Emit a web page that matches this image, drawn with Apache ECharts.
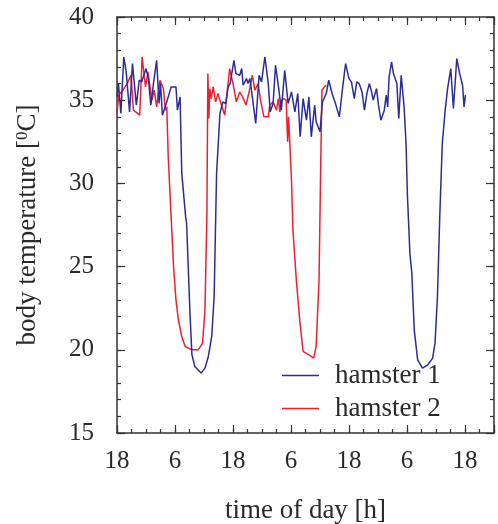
<!DOCTYPE html>
<html>
<head>
<meta charset="utf-8">
<script src="https://cdn.jsdelivr.net/npm/echarts@6/dist/echarts.min.js"></script>
<style>html,body{margin:0;padding:0;background:#fff}#c{width:498px;height:524px}</style>
</head>
<body>
<div id="c"></div>
<script>
// time since 18:00 on day 1, in hours
const hamster1Hours = [0.0,0.3,0.8,1.4,1.9,2.6,3.2,4.0,4.6,5.1,6.0,6.5,7.0,7.5,8.2,8.7,9.0,9.4,10.3,11.2,11.7,12.2,12.5,12.8,13.05,13.4,14.2,14.4,15.1,15.5,16.1,17.4,18.2,18.9,19.6,20.1,20.6,21.3,21.9,22.5,23.0,23.4,24.2,24.6,25.4,25.8,26.1,26.8,27.1,27.5,28.0,28.7,29.4,29.9,30.6,31.3,31.7,32.3,32.8,33.5,34.0,34.7,35.4,36.1,36.8,37.4,37.9,38.5,39.2,39.7,40.2,40.9,41.2,42.0,42.5,43.3,43.8,44.5,45.2,46.0,46.7,47.3,48.0,48.5,49.1,49.6,50.1,50.7,51.2,51.7,52.2,52.6,53.0,53.7,54.1,54.6,55.3,55.7,56.0,56.3,56.8,57.2,57.5,57.9,58.3,58.8,59.0,59.4,59.8,60.1,60.6,61.0,61.5,62.2,63.2,64.3,65.3,65.8,66.3,66.8,67.3,67.9,68.4,69.05,69.6,70.3,70.9,71.5,71.8,72.1];
const hamster1Temp = [35.2,36.0,34.2,37.6,36.7,34.3,37.2,34.7,36.2,36.1,36.9,36.3,34.7,35.9,37.4,34.8,36.0,34.1,34.9,35.8,35.8,35.8,34.4,34.4,35.2,30.6,28.0,27.6,22.2,19.7,19.0,18.6,18.9,19.6,20.8,23.2,30.6,34.2,34.9,34.8,35.8,36.0,37.4,36.6,36.5,36.9,35.9,36.3,36.0,36.3,35.2,33.6,36.5,36.1,37.6,36.0,34.3,34.8,37.1,35.6,34.4,36.8,34.8,35.5,34.3,35.4,32.8,35.1,33.8,35.2,32.8,34.7,33.7,33.1,34.9,35.4,36.2,35.4,34.8,34.0,35.8,37.2,36.3,36.1,35.1,36.1,36.0,35.5,34.4,35.4,36.0,35.6,35.0,35.7,34.7,33.8,34.4,35.3,34.6,36.4,37.3,36.6,36.7,36.0,33.9,36.5,36.5,34.6,32.4,29.2,25.8,24.6,21.2,19.4,18.9,19.1,19.5,20.4,23.2,28.2,32.4,34.4,35.7,36.9,34.5,37.5,36.6,35.9,34.6,35.3];
const hamster2Hours = [0.0,0.35,1.2,2.1,2.9,3.4,4.7,5.2,5.5,5.9,6.4,7.2,7.7,8.2,8.9,9.6,10.0,10.3,10.6,11.3,11.7,12.2,12.7,13.4,14.1,15.5,16.8,17.7,18.2,18.6,18.8,19.0,19.2,19.5,19.9,20.4,20.9,21.4,22.3,23.3,24.0,24.7,25.4,26.0,26.7,27.4,28.0,28.5,29.2,29.7,30.4,31.3,31.6,32.3,32.6,33.0,33.4,33.7,34.0,34.5,35.0,35.3,35.5,35.8,36.1,36.4,37.1,37.8,38.5,39.7,40.7,41.2,41.8,42.1,42.4,42.9,43.3];
const hamster2Temp = [34.2,35.3,35.6,36.0,36.5,34.4,34.1,37.6,36.8,35.8,36.7,35.0,35.6,34.6,36.2,35.7,34.4,34.6,31.6,27.4,25.0,23.0,21.8,20.8,20.2,20.0,20.0,20.4,22.4,28.2,36.6,33.9,35.7,35.1,35.8,34.9,35.4,34.9,34.1,36.9,36.0,34.9,35.5,35.2,34.7,35.6,36.5,35.6,36.0,35.0,34.0,34.0,34.7,34.9,35.0,34.4,35.1,34.3,35.0,35.1,35.0,32.5,34.0,34.0,30.2,27.2,24.2,21.8,19.9,19.7,19.5,20.2,24.2,30.2,35.6,35.8,35.9];
const xTickLabels = ['18','6','18','6','18','6','18'];
const seriesNames = ['hamster 1','hamster 2'];

const FONT = 'Liberation Serif';
const TXT = '#2a2a2a';
const FRAME = '#333';

function zip(a, b) { return a.map((v, i) => [v, b[i]]); }

const xMin = 0, xMax = 78, yMin = 15, yMax = 40;

function xAxisDef(pos, major, showLabels) {
  return {
    type: 'value', position: pos, min: xMin, max: xMax,
    interval: major ? 12 : 3,
    axisLine: { show: major, onZero: false, lineStyle: { color: FRAME, width: 1.5 } },
    axisTick: { show: true, inside: true, length: major ? 8 : 4, lineStyle: { color: FRAME, width: 1.2 } },
    axisLabel: {
      show: showLabels, margin: 16, fontFamily: FONT, fontSize: 25, color: TXT,
      formatter: v => (v % 12 === 0 && v / 12 < xTickLabels.length) ? xTickLabels[v / 12] : ''
    },
    splitLine: { show: false },
    name: showLabels ? 'time of day [h]' : '',
    nameLocation: 'middle', nameGap: 64,
    nameTextStyle: { fontFamily: FONT, fontSize: 27, color: TXT }
  };
}

function yAxisDef(pos, major, showLabels) {
  return {
    type: 'value', position: pos, min: yMin, max: yMax, interval: major ? 5 : 1,
    axisLine: { show: major, onZero: false, lineStyle: { color: FRAME, width: 1.5 } },
    axisTick: { show: true, inside: true, length: major ? 8 : 4, lineStyle: { color: FRAME, width: 1.2 } },
    axisLabel: { show: showLabels, margin: 23, fontFamily: FONT, fontSize: 25, color: TXT },
    splitLine: { show: false },
    name: showLabels ? 'body temperature [{sup|0}C]' : '',
    nameLocation: 'middle', nameGap: 75,
    nameTextStyle: {
      fontFamily: FONT, fontSize: 27, color: TXT,
      rich: { sup: { fontFamily: FONT, fontSize: 17, color: TXT, padding: [0, 0, 11, 0] } }
    }
  };
}

const chart = echarts.init(document.getElementById('c'), null, { renderer: 'canvas' });
chart.setOption({
  animation: false,
  backgroundColor: '#fff',
  grid: { left: 117, right: 4, top: 17, bottom: 91, outerBoundsMode: 'none' },
  xAxis: [
    xAxisDef('bottom', true, true),
    xAxisDef('bottom', false, false),
    xAxisDef('top', true, false),
    xAxisDef('top', false, false)
  ],
  yAxis: [
    yAxisDef('left', true, true),
    yAxisDef('left', false, false),
    yAxisDef('right', true, false),
    yAxisDef('right', false, false)
  ],
  legend: {
    orient: 'vertical', left: 282, top: 362, padding: 0, itemGap: 6,
    itemWidth: 37, itemHeight: 1.5, icon: 'rect',
    textStyle: { fontFamily: FONT, fontSize: 27, color: TXT, padding: [0, 0, 0, 11] },
    data: seriesNames
  },
  series: [
    { name: seriesNames[0], type: 'line', symbol: 'none', data: zip(hamster1Hours, hamster1Temp),
      lineStyle: { color: '#2c2c98', width: 1.5 }, itemStyle: { color: '#2c2c98' }, z: 3 },
    { name: seriesNames[1], type: 'line', symbol: 'none', data: zip(hamster2Hours, hamster2Temp),
      lineStyle: { color: '#ee2030', width: 1.5 }, itemStyle: { color: '#ee2030' }, z: 2 }
  ]
});
</script>
</body>
</html>
